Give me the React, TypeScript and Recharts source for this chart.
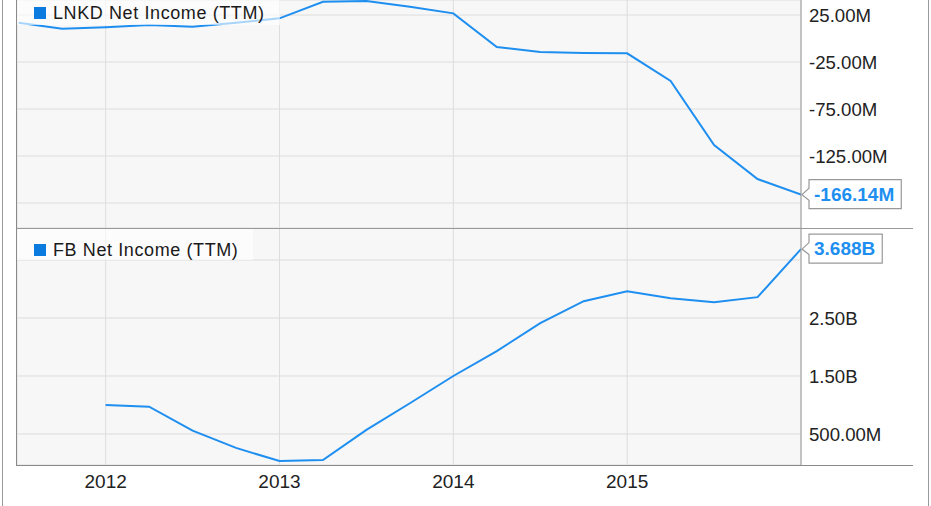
import { LineChart, Line, XAxis, YAxis, CartesianGrid, LabelList } from 'recharts';

const quarters = [
  2011.5, 2011.75, 2012, 2012.25, 2012.5, 2012.75, 2013, 2013.25, 2013.5, 2013.75,
  2014, 2014.25, 2014.5, 2014.75, 2015, 2015.25, 2015.5, 2015.75, 2016,
];
// millions
const lnkdIncome = [
  16.8, 10.4, 11.9, 14.4, 12.6, 16.8, 21.5, 39.1, 39.9, 33.8,
  26.8, -9.0, -14.4, -15.4, -15.7, -45.2, -113.3, -149.5, -166.14,
];
// billions
const fbIncome = [
  null, null, 1.0, 0.97, 0.557, 0.26, 0.034, 0.05, 0.57, 1.03,
  1.5, 1.93, 2.41, 2.79, 2.96, 2.84, 2.77, 2.86, 3.688,
];
const yearTicks = [2012, 2013, 2014, 2015];
const lnkdTicks = [-175, -125, -75, -25, 25];
const fbTicks = [0.5, 1.5, 2.5, 3.5];

const FONT = "Arial, 'Liberation Sans', sans-serif";
const BLUE = '#1e8ff0';
const GRID = '#dddddd';
const X_DOMAIN: [number, number] = [2011.49, 2016];

const lnkdData = quarters.map((q, i) => ({ q, v: lnkdIncome[i] }));
const fbData = quarters.map((q, i) => ({ q, v: fbIncome[i] }));

const fmtM = (v: number) => `${v.toFixed(2)}M`;
const fmtB = (v: number) => (v >= 1 ? `${v.toFixed(2)}B` : `${(v * 1000).toFixed(2)}M`);

function RightTick({ x, y, payload, fmt, skip }: any) {
  if (skip.includes(payload.value)) return null;
  return (
    <text x={x} y={y} dy="0.36em" textAnchor="start" fontFamily={FONT} fontSize={18.6} fill="#222">
      {fmt(payload.value)}
    </text>
  );
}

function YearTick({ x, y, payload }: any) {
  return (
    <text x={x} y={y} dy="0.71em" textAnchor="middle" fontFamily={FONT} fontSize={19} fill="#222">
      {payload.value}
    </text>
  );
}

const charW = (s: string, fs: number) =>
  s.split('').reduce((a, c) => a + (c === '.' ? 0.278 : c === '-' ? 0.333 : c === 'M' ? 0.833 : c === 'B' ? 0.722 : 0.556), 0) * fs;

function EndLabel({ x, y, index, text }: any) {
  if (index !== quarters.length - 1 || x == null || y == null) return null;
  const fs = 19;
  const w = charW(text, fs) + 12;
  const bx = x + 8;
  const cy = y - 0.5;
  const h = 14.5;
  const d = `M${x + 1},${y} L${bx},${cy - 6} L${bx},${cy - h} L${bx + w},${cy - h} L${bx + w},${cy + h} L${bx},${cy + h} L${bx},${cy + 6} Z`;
  return (
    <g>
      <path d={d} fill="#fff" stroke="#999" strokeWidth={1.2} />
      <text x={bx + 5} y={cy} dy="0.36em" fontFamily={FONT} fontSize={fs} fontWeight="bold" fill={BLUE}>
        {text}
      </text>
    </g>
  );
}

function LegendBox({ top, width, label, textTop }: { top: number; width: number; label: string; textTop: number }) {
  return (
    <div
      style={{
        position: 'absolute', left: 17, top, width, height: 31,
        background: 'rgba(255,255,255,0.62)', fontFamily: FONT,
      }}
    >
      <div style={{ position: 'absolute', left: 17, top: textTop - 6, width: 12, height: 12, background: '#0b7be0' }} />
      <div
        style={{
          position: 'absolute', left: 36, top: textTop - 11, lineHeight: '22px', fontSize: 18,
          letterSpacing: 0.6, color: '#1a1a1a', whiteSpace: 'nowrap',
        }}
      >
        {label}
      </div>
    </div>
  );
}

const hLine = (top: number, left: number, width: number, color: string) => (
  <div style={{ position: 'absolute', top, left, width, height: 1, background: color }} />
);
const vLine = (left: number, top: number, height: number, color: string) => (
  <div style={{ position: 'absolute', top, left, width: 1, height, background: color }} />
);

export default function App() {
  return (
    <div style={{ position: 'absolute', left: 0, top: 0, width: 931, height: 506, background: '#fff', overflow: 'hidden' }}>
      <div style={{ position: 'absolute', left: 0, top: 0 }}>
        <LineChart width={931} height={228} data={lnkdData} margin={{ top: 0, right: 0, bottom: 0, left: 17 }}>
          <CartesianGrid stroke={GRID} fill="#f7f7f7" />
          <XAxis dataKey="q" type="number" domain={X_DOMAIN} ticks={yearTicks} hide allowDataOverflow />
          <YAxis
            orientation="right" width={130} domain={[-201.6, 41]} ticks={lnkdTicks} allowDataOverflow
            axisLine={{ stroke: '#999' }} tickLine={false} tickSize={0} tickMargin={8}
            tick={<RightTick fmt={fmtM} skip={[-175]} />}
          />
          <Line type="linear" dataKey="v" stroke={BLUE} strokeWidth={2} dot={false} isAnimationActive={false}>
            <LabelList dataKey="v" content={(p: any) => <EndLabel {...p} text="-166.14M" />} />
          </Line>
        </LineChart>
      </div>
      <div style={{ position: 'absolute', left: 0, top: 228 }}>
        <LineChart width={931} height={278} data={fbData} margin={{ top: 0, right: 0, bottom: 0, left: 17 }}>
          <CartesianGrid stroke={GRID} fill="#f7f7f7" />
          <XAxis
            dataKey="q" type="number" domain={X_DOMAIN} ticks={yearTicks} allowDataOverflow height={41}
            axisLine={false} tickLine={false} tickSize={0} tickMargin={10} tick={<YearTick />}
          />
          <YAxis
            orientation="right" width={130} domain={[-0.0345, 4.0517]} ticks={fbTicks} allowDataOverflow
            axisLine={{ stroke: '#999' }} tickLine={false} tickSize={0} tickMargin={8}
            tick={<RightTick fmt={fmtB} skip={[3.5]} />}
          />
          <Line type="linear" dataKey="v" stroke={BLUE} strokeWidth={2} dot={false} isAnimationActive={false}>
            <LabelList dataKey="v" content={(p: any) => <EndLabel {...p} text="3.688B" />} />
          </Line>
        </LineChart>
      </div>
      <LegendBox top={-6} width={263} label="LNKD Net Income (TTM)" textTop={18.5} />
      <LegendBox top={229} width={236} label="FB Net Income (TTM)" textTop={21} />
      {vLine(16, 0, 466, '#8a8a8a')}
      {hLine(228, 17, 896, '#999')}
      {hLine(465, 17, 896, '#8a8a8a')}
      {vLine(2, 0, 506, '#999')}
      {vLine(928, 0, 506, '#999')}
    </div>
  );
}
